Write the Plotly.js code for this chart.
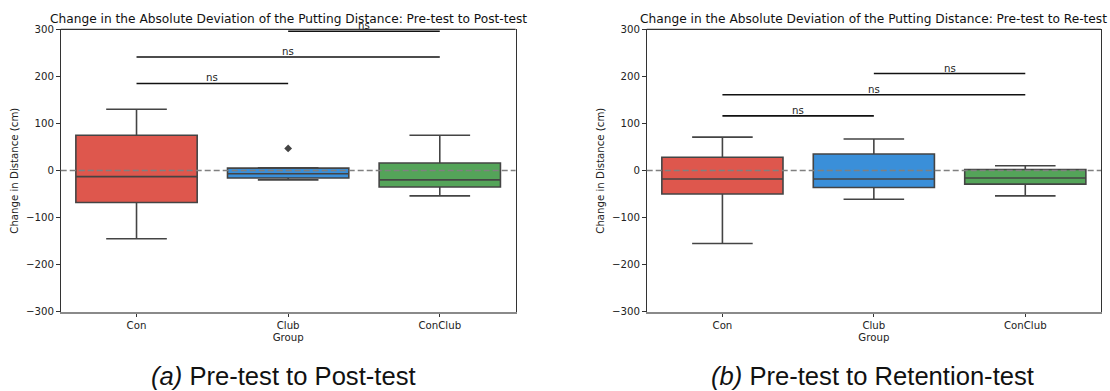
<!DOCTYPE html>
<html>
<head>
<meta charset="utf-8">
<script src="https://cdn.plot.ly/plotly-3.0.1.min.js"></script>
<style>html,body{margin:0;padding:0;background:#fff}#chart{width:1110px;height:391px}</style>
</head>
<body>
<div id="chart"></div>
<script>
// ---- data ----
const categories = ['Con', 'Club', 'ConClub'];
const boxColors = ['#de574d', '#3a8fd9', '#54a459'];

// (a) Pre-test to Post-test
const postLower  = [-145, -20, -54];
const postQ1     = [-68, -16, -35];
const postMedian = [-13, -7, -20];
const postQ3     = [75, 5, 16];
const postUpper  = [130, 6, 75];
const postOutlierX = ['Club'];
const postOutlierY = [47];
const postSigY = [185, 241, 296];

// (b) Pre-test to Retention-test
const reLower  = [-155, -61, -54];
const reQ1     = [-50, -36, -29];
const reMedian = [-18, -18, -16];
const reQ3     = [28, 35, 2];
const reUpper  = [71, 67, 10];
const reSigY = [116, 161, 206];

const sigPairs = [['Con', 'Club'], ['Con', 'ConClub'], ['Club', 'ConClub']];
const sigLabels = ['ns', 'ns', 'ns'];

const titles = [
  'Change in the Absolute Deviation of the Putting Distance: Pre-test to Post-test',
  'Change in the Absolute Deviation of the Putting Distance: Pre-test to Re-test'
];
const captions = ['<i>(a)</i> Pre-test to Post-test', '<i>(b)</i> Pre-test to Retention-test'];
const yLabel = 'Change in Distance (cm)';
const xLabel = 'Group';

// ---- build ----
const W = 1110, H = 391;
const font = 'DejaVu Sans, sans-serif';
const edge = '#444444';
const tickSize = 10.2;
const captionCenters = [283 / W, 872 / W];
const traces = [];
const shapes = [];
const annotations = [];

function addPanel(idx, lower, q1, med, q3, upper, sigY, outX, outY) {
  const xa = idx === 0 ? 'x' : 'x2';
  const ya = idx === 0 ? 'y' : 'y2';
  categories.forEach((c, i) => {
    traces.push({
      type: 'box', x: [c], q1: [q1[i]], median: [med[i]], q3: [q3[i]],
      lowerfence: [lower[i]], upperfence: [upper[i]],
      width: 0.8, whiskerwidth: 0.5,
      fillcolor: boxColors[i], line: {color: edge, width: 1.6},
      boxpoints: false, hoverinfo: 'skip', showlegend: false,
      xaxis: xa, yaxis: ya
    });
  });
  if (outX && outX.length) {
    traces.push({
      type: 'scatter', mode: 'markers', x: outX, y: outY,
      marker: {symbol: 'diamond', size: 6, color: edge},
      showlegend: false, hoverinfo: 'skip', xaxis: xa, yaxis: ya
    });
  }
  // zero reference line
  shapes.push({type: 'line', xref: xa + ' domain', yref: ya, x0: 0, x1: 1, y0: 0, y1: 0,
    line: {color: '#808080', width: 1.3, dash: '6px,3px'}, layer: 'above'});
  // top spine
  shapes.push({type: 'line', xref: xa + ' domain', yref: ya + ' domain', x0: 0, x1: 1, y0: 1, y1: 1,
    line: {color: '#333333', width: 1.2}, layer: 'above'});
  // significance bars
  sigPairs.forEach((p, k) => {
    const a = categories.indexOf(p[0]), b = categories.indexOf(p[1]);
    shapes.push({type: 'line', xref: xa, yref: ya, x0: a, x1: b, y0: sigY[k], y1: sigY[k],
      line: {color: '#111111', width: 1.6}, layer: 'above'});
    annotations.push({xref: xa, yref: ya, x: (a + b) / 2, y: sigY[k], text: sigLabels[k],
      showarrow: false, xanchor: 'center', yanchor: 'bottom', yshift: -2, font: {family: font, size: tickSize, color: '#222'}});
  });
  // subplot title
  annotations.push({xref: xa + ' domain', yref: ya + ' domain', x: 0.5, y: 1, xanchor: 'center', yanchor: 'middle',
    yshift: 10.5, text: titles[idx], showarrow: false, font: {family: font, size: 12.2, color: '#111'}});
  // y label
  annotations.push({xref: xa + ' domain', yref: ya + ' domain', x: 0, y: 0.5, xanchor: 'center',
    xshift: -46.5, textangle: -90, text: yLabel, showarrow: false, font: {family: font, size: tickSize, color: '#222'}});
  // caption
  annotations.push({xref: 'paper', yref: 'paper', x: captionCenters[idx], y: 1 - 375.5 / H,
    xanchor: 'center', yanchor: 'middle',
    text: captions[idx], showarrow: false, font: {family: 'Liberation Sans, Arial, sans-serif', size: 25.6, color: '#111'}});
}

addPanel(0, postLower, postQ1, postMedian, postQ3, postUpper, postSigY, postOutlierX, postOutlierY);
addPanel(1, reLower, reQ1, reMedian, reQ3, reUpper, reSigY, null, null);

const yDom = [1 - 311.7 / H, 1 - 29.3 / H];
function xAxis(dom, anchor) {
  return {domain: dom, anchor: anchor, type: 'category', categoryorder: 'array', categoryarray: categories,
    range: [-0.5, 2.5], showline: true, linecolor: '#8a8a8a', linewidth: 2,
    ticks: 'outside', ticklen: 3.5, tickcolor: '#333', tickwidth: 1,
    showgrid: false, zeroline: false, fixedrange: true,
    tickfont: {family: font, size: tickSize, color: '#222'},
    title: {text: xLabel, standoff: 3, font: {family: font, size: tickSize, color: '#222'}}};
}
function yAxis(anchor) {
  return {domain: yDom, anchor: anchor, range: [-300, 300], dtick: 100, tick0: 0,
    showline: true, mirror: true, linecolor: '#333', linewidth: 1.2,
    ticks: 'outside', ticklen: 3.5, tickcolor: '#333', tickwidth: 1,
    showgrid: false, zeroline: false, fixedrange: true,
    tickfont: {family: font, size: tickSize, color: '#222'}};
}

const layout = {
  width: W, height: H, margin: {l: 0, r: 0, t: 0, b: 0},
  paper_bgcolor: '#fff', plot_bgcolor: '#fff', boxmode: 'overlay', showlegend: false,
  xaxis: xAxis([60.7 / W, 515.6 / W], 'y'),
  yaxis: yAxis('x'),
  xaxis2: xAxis([646.7 / W, 1101 / W], 'y2'),
  yaxis2: yAxis('x2'),
  shapes: shapes, annotations: annotations
};

Plotly.newPlot('chart', traces, layout, {displayModeBar: false, staticPlot: true});
</script>
</body>
</html>
